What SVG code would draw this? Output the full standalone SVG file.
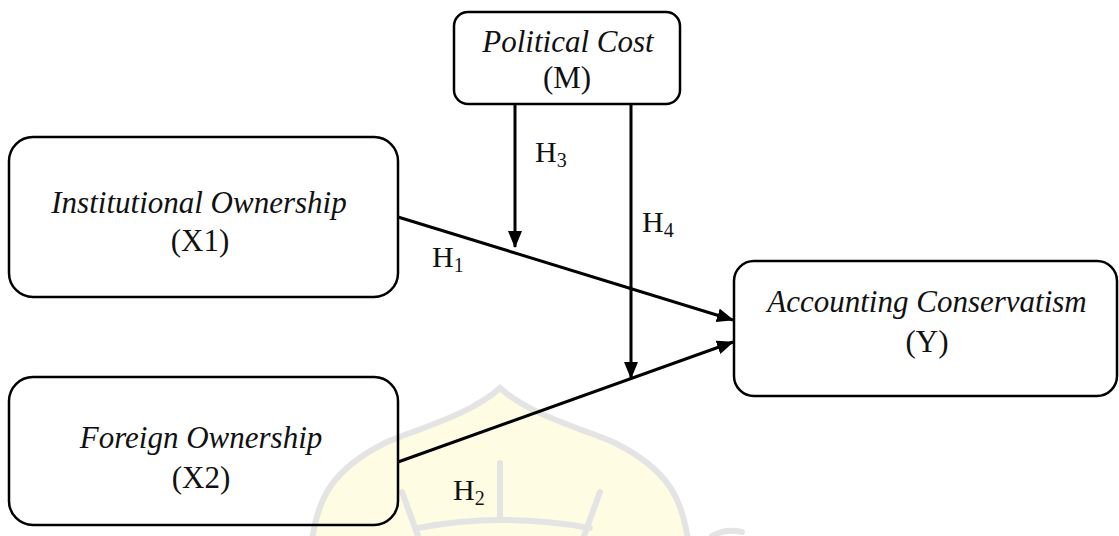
<svg xmlns="http://www.w3.org/2000/svg" width="1119" height="536" viewBox="0 0 1119 536">
  <style>
    .box { fill: none; stroke: #000; stroke-width: 2.5; }
    .name { font-family: "Liberation Serif", "Times New Roman", serif; font-style: italic; font-size: 31px; fill: #111; text-anchor: middle; }
    .code { font-family: "Liberation Serif", "Times New Roman", serif; font-size: 31px; fill: #111; text-anchor: middle; }
    .hlab { font-family: "Liberation Serif", "Times New Roman", serif; font-size: 30px; fill: #111; }
    .sub { font-size: 20px; }
    .conn { fill: none; stroke: #000; stroke-width: 3; }
    .wm { fill: none; stroke: #e4e4e4; stroke-width: 6; stroke-linecap: round; }
  </style>
  <defs>
    <marker id="arrow" markerUnits="userSpaceOnUse" markerWidth="18" markerHeight="16" refX="16" refY="7" orient="auto">
      <path d="M0,0 L17,7 L0,14 Z" fill="#000"/>
    </marker>
  </defs>
  <rect width="1119" height="536" fill="#fff"/>
  <g id="watermark">
    <path d="M312,540 C318,500 330,470 387,442 C420,428 470,415 500,388 C530,415 580,428 613,442 C670,470 682,500 688,540 Z" fill="#fffce4" stroke="#e4e4e4" stroke-width="6"/>
    <path class="wm" d="M500,463 L500,520"/>
    <path class="wm" d="M402,492 L418,536"/>
    <path class="wm" d="M600,492 L584,536"/>
    <path class="wm" d="M418,528 Q500,512 590,528"/>
    <path class="wm" d="M712,536 Q726,528 742,532"/>
  </g>
  <g id="connectors">
    <path class="conn" d="M398,217 L733,320" marker-end="url(#arrow)"/>
    <path class="conn" d="M398,462 L733,342" marker-end="url(#arrow)"/>
    <path class="conn" d="M515,105 L515,247" marker-end="url(#arrow)"/>
    <path class="conn" d="M631,105 L631,378" marker-end="url(#arrow)"/>
  </g>
  <g id="node-m">
    <rect class="box" x="454" y="12" width="226" height="92" rx="14"/>
    <text class="name" x="568" y="52">Political Cost</text>
    <text class="code" x="567" y="88">(M)</text>
  </g>
  <g id="node-x1">
    <rect class="box" x="9" y="137" width="389" height="160" rx="24"/>
    <text class="name" x="199" y="213">Institutional Ownership</text>
    <text class="code" x="200" y="251">(X1)</text>
  </g>
  <g id="node-x2">
    <rect class="box" x="9" y="377" width="389" height="148" rx="24"/>
    <text class="name" x="201" y="448">Foreign Ownership</text>
    <text class="code" x="201" y="488">(X2)</text>
  </g>
  <g id="node-y">
    <rect class="box" x="734" y="261" width="383" height="135" rx="20"/>
    <text class="name" x="927" y="312">Accounting Conservatism</text>
    <text class="code" x="927" y="352">(Y)</text>
  </g>
  <g id="labels">
    <text class="hlab" x="432" y="267">H<tspan class="sub" dy="5">1</tspan></text>
    <text class="hlab" x="453" y="500">H<tspan class="sub" dy="5">2</tspan></text>
    <text class="hlab" x="535" y="162">H<tspan class="sub" dy="5">3</tspan></text>
    <text class="hlab" x="642" y="232">H<tspan class="sub" dy="5">4</tspan></text>
  </g>
</svg>
